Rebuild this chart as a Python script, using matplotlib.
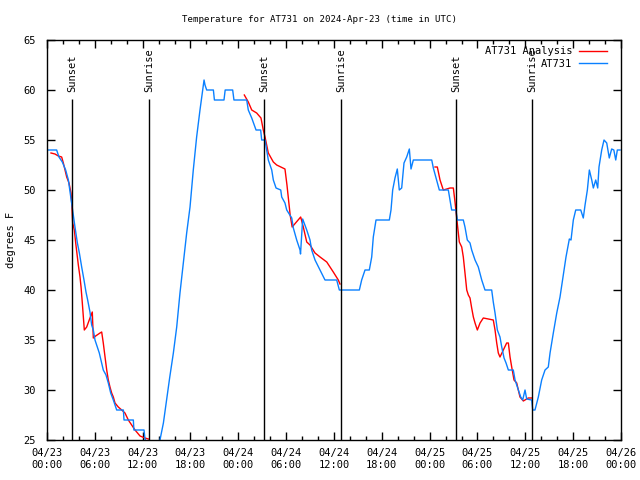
import numpy as np
import matplotlib
matplotlib.use('Agg')
import matplotlib.pyplot as plt
import matplotlib.dates as mdates

# hours since 2024-04-23 00:00 UTC, temperatures in degrees F

# AT731 station, day 1
obs_h1 = [0.13, 1.21, 1.5, 1.92, 2.34, 2.68, 2.89, 3.1, 3.3, 3.51, 3.81, 4.06, 4.35, 4.64,
          4.89, 5.1, 5.39, 5.6, 5.81, 6.02, 6.31, 6.56, 6.77, 7.06, 7.4, 7.69, 7.99, 8.32,
          8.74, 9.58, 9.66, 10.83, 10.9, 12.17, 12.29, 12.7, 13.5, 14.17, 14.6, 15.0, 15.4,
          15.85, 16.27, 16.68, 17.1, 17.52, 17.94, 18.35, 18.77, 19.19, 19.53, 19.7, 19.82,
          20.03, 20.87, 21.0, 22.2, 22.35, 23.29, 23.45]
obs_t1 = [54, 54, 53.3, 52.8, 52, 51, 49.8, 48.6, 47.5, 46.3, 44.7, 43.7, 42.3, 41,
          39.8, 39, 37.8, 36.5, 36, 35, 34.3, 33.7, 33, 32, 31.5, 30.7, 29.7, 29,
          28, 28, 27, 27, 26, 26, 25.1, 24.5, 24, 25, 26.7, 29, 31.3,
          33.7, 36.3, 39.7, 42.7, 45.7, 48.3, 52, 55.3, 58, 60, 61, 60.5,
          60, 60, 59, 59, 60, 60, 59]

# AT731 station, day 2
obs_h2 = [25.05, 25.25, 25.68, 26.22, 26.8, 26.93, 27.35, 27.56, 27.76, 28.19, 28.39, 28.73,
          29.32, 29.44, 29.85, 30.07, 30.7, 30.9, 31.32, 31.74, 31.8, 32.07, 32.58, 32.99,
          33.2, 33.62, 34.25, 34.87, 36.34, 36.67, 39.18, 39.47, 39.89, 40.43, 40.73, 40.93,
          41.27, 42.94, 43.15, 43.36, 43.65, 43.94, 44.19, 44.49, 44.78, 45.12, 45.45, 45.66,
          45.95, 48.26]
obs_t2 = [59, 58, 57.2, 56, 56, 55, 55, 54, 53, 52, 51, 50.2,
          50, 49.3, 48.7, 48, 47.2, 46.2, 45, 44, 43.6, 47.1, 46, 45,
          44, 43, 42, 41, 41, 40, 40, 41, 42, 42, 43.3, 45.3,
          47, 47, 48, 50, 51.2, 52.1, 50, 50.2, 52.7, 53.3, 54.1, 52.1,
          53, 53]

# AT731 station, day 3
obs_h3 = [48.46, 48.8, 49.21, 50.34, 50.55, 50.76, 51.3, 51.47, 52.22, 52.43, 52.72, 53.06,
          53.27, 53.69, 54.1, 54.3, 54.53, 54.94, 55.78, 55.98, 56.2, 56.49, 56.82, 57.04,
          57.33, 57.58, 57.87, 58.49, 58.71, 59.12, 59.42, 59.67, 59.96, 60.17, 60.8, 60.93,
          61.21, 61.63, 62.05, 62.47, 62.88, 63.1, 63.51, 63.94, 64.35, 64.76, 65.1, 65.52,
          65.73, 66.02, 66.32, 66.95, 67.27, 67.49, 67.78, 68.03, 68.33, 68.53, 68.83, 69.08,
          69.24, 69.58, 69.87, 70.21, 70.53, 70.83, 71.1, 71.34, 71.54, 71.88]
obs_t3 = [52.2, 51.2, 50, 50, 49, 48, 48, 47, 47, 46.3, 45, 44.7,
          44, 43, 42.3, 41.7, 41, 40, 40, 38.8, 37.7, 36, 35.3, 34.3,
          33.2, 32.7, 32, 32, 31, 30, 29.3, 29, 30, 29.1, 29, 28,
          28, 29.3, 31, 32, 32.3, 33.7, 35.7, 37.7, 39.3, 41.5, 43.3, 45.1,
          45, 47, 48, 48, 47.2, 48.5, 50, 52, 51, 50.2, 51, 50.2,
          52.3, 54, 55, 54.7, 53.2, 54.1, 54, 53, 54, 54]

# AT731 Analysis, three night segments
ana_h1 = [0.5, 1.0, 1.42, 1.84, 2.05, 2.26, 2.47, 2.76, 3.01, 3.1, 3.22, 3.43, 3.6, 3.81, 3.93,
          4.14, 4.27, 4.43, 4.56, 4.68, 4.98, 5.39, 5.68, 5.81, 6.1, 6.65, 6.86, 7.06, 7.28,
          7.49, 7.69, 7.9, 8.11, 8.32, 8.53, 8.94, 9.37, 9.78, 10.2, 10.62, 11.04, 11.67,
          12.29, 12.71]
ana_t1 = [53.7, 53.6, 53.4, 53.3, 52.7, 52, 51.3, 50.7, 49.7, 48.7, 46.7, 46, 44.7, 43.3, 42.5,
          41.3, 40.3, 38.7, 37.3, 36, 36.3, 37.2, 37.8, 35.2, 35.4, 35.7, 35.8, 34.7, 33.3,
          32, 31, 30.3, 29.7, 29.3, 28.7, 28.3, 28, 27.7, 27, 26.5, 26, 25.4,
          25.2, 25.1]

ana_h2 = [24.75, 25.25, 25.68, 26.3, 26.84, 27.13, 27.35, 27.76, 28.39, 28.81, 29.85, 30.1,
          30.5, 30.75, 31.82, 32.15, 32.58, 32.99, 33.62, 34.25, 35.09, 35.91, 36.54, 36.75]
ana_t2 = [59.5, 58.8, 58, 57.7, 57.2, 56, 55.3, 53.7, 52.8, 52.5, 52.1, 50.5,
          47.5, 46.3, 47.3, 46.3, 44.8, 44.5, 43.7, 43.3, 42.8, 41.8, 41, 40.6]

ana_h3 = [48.67, 48.96, 49.3, 49.71, 50.14, 50.55, 50.97, 51.18, 51.39, 51.72, 52.02, 52.22,
          52.43, 52.65, 52.85, 53.06, 53.27, 53.48, 53.69, 53.98, 54.32, 54.73, 55.36, 55.98,
          56.2, 56.41, 56.61, 56.82, 57.24, 57.66, 57.87, 58.08, 58.29, 58.58, 58.92, 59.12,
          59.33, 59.75, 60.37, 60.8]
ana_t3 = [52.3, 52.3, 51, 50, 50.1, 50.2, 50.2, 48.8, 47.2, 44.8, 44.3, 43.3,
          41.7, 40, 39.5, 39.2, 38.2, 37.3, 36.7, 36, 36.7, 37.2, 37.1, 37,
          36, 34.7, 33.7, 33.3, 34, 34.7, 34.7, 33.3, 32.3, 31, 30.7, 30,
          29.3, 28.9, 29.2, 29.2]

sunset_h = [3.17, 27.26, 51.34]
sunrise_h = [12.83, 36.92, 60.88]

t0 = np.datetime64('2024-04-23T00:00')


def to_time(hours):
    secs = np.round(np.asarray(hours, dtype=float) * 3600).astype(int)
    return t0 + secs.astype('timedelta64[s]')


plt.rcParams['font.family'] = 'DejaVu Sans Mono'
plt.rcParams['font.size'] = 7.5

fig = plt.figure(figsize=(6.4, 4.8), dpi=100)
ax = fig.add_axes([47 / 640, 40 / 480, 574 / 640, 400 / 480])

red = '#ff0000'
blue = '#0a80ff'

ax.plot(to_time(ana_h1), ana_t1, color=red, lw=1.0, label='AT731 Analysis')
ax.plot(to_time(ana_h2), ana_t2, color=red, lw=1.0)
ax.plot(to_time(ana_h3), ana_t3, color=red, lw=1.0)

obs_h = obs_h1 + obs_h2 + obs_h3
obs_t = obs_t1 + obs_t2 + obs_t3
ax.plot(to_time(obs_h), obs_t, color=blue, lw=1.0, label='AT731')

# sunset / sunrise markers
for hrs, name in [(sunset_h, 'Sunset'), (sunrise_h, 'Sunrise')]:
    for h in hrs:
        t = to_time([h])[0]
        ax.vlines(t, 25, 59.1, color='black', lw=1.0)
        ax.text(t, 59.8, name, rotation=90, ha='center', va='bottom')

ax.set_xlim(t0, t0 + np.timedelta64(72, 'h'))
ax.set_ylim(25, 65)
ax.set_yticks(range(25, 70, 5))

ax.xaxis.set_major_locator(mdates.HourLocator(byhour=[0, 6, 12, 18]))
ax.xaxis.set_minor_locator(mdates.HourLocator(byhour=range(0, 24, 2)))
ax.xaxis.set_major_formatter(mdates.DateFormatter('%m/%d\n%H:%M'))

ax.tick_params(which='both', direction='in', top=True, right=True, width=1.0)
ax.tick_params(which='major', length=6, pad=6)
ax.tick_params(which='minor', length=3)
ax.tick_params(axis='y', pad=8)
for s in ax.spines.values():
    s.set_linewidth(1.0)

ax.set_ylabel('degrees F')
ax.yaxis.set_label_coords(-31 / 574, 0.5)
fig.text(0.5, 1 - 19 / 480, 'Temperature for AT731 on 2024-Apr-23 (time in UTC)',
         ha='center', va='center', fontsize=6.6)

ax.legend(loc='upper right', bbox_to_anchor=(1 - 10 / 574, 1 - 2 / 400), frameon=False,
          markerfirst=False, handlelength=2.7, handletextpad=0.6, labelspacing=0.25,
          borderaxespad=0)

fig.savefig('out.png', dpi=100)
